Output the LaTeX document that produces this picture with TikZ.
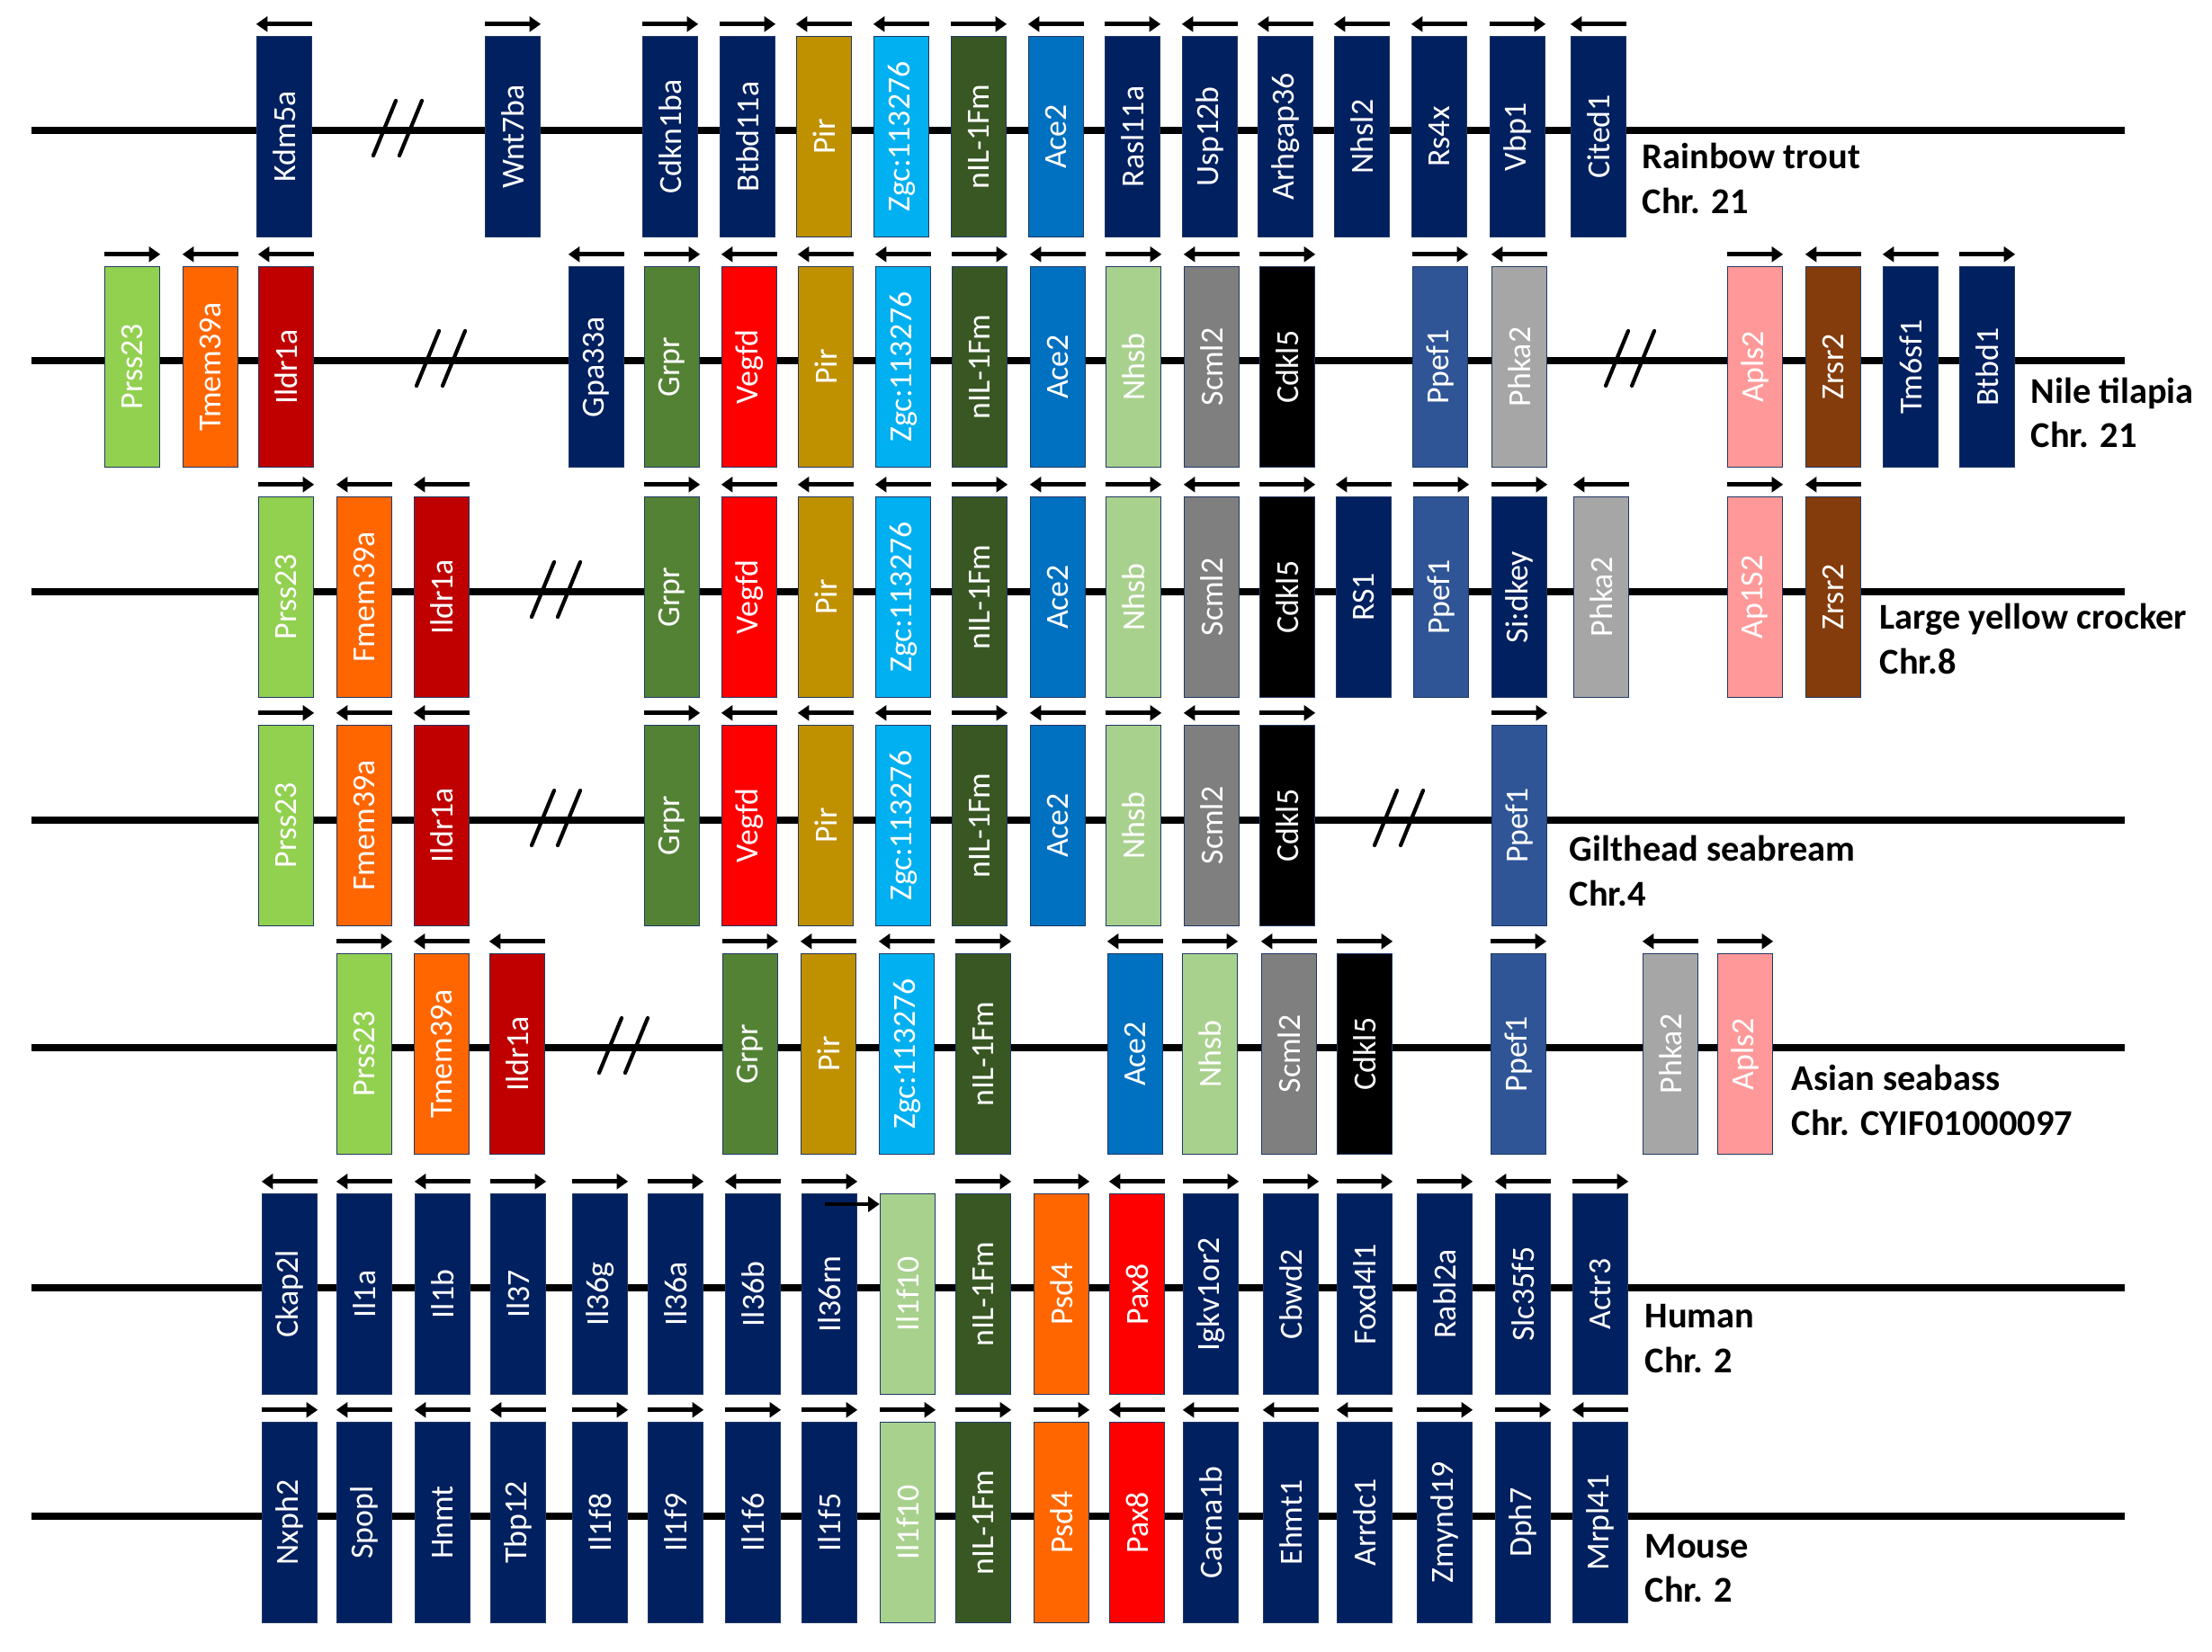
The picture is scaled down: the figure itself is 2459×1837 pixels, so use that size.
\documentclass[tikz,border=0pt]{standalone}
\usepackage{fontspec}
\setmainfont{Carlito}
\usepackage{graphicx}
\usepackage{tikz}
\usetikzlibrary{arrows.meta, positioning}
\definecolor{darknavy}{HTML}{002060}
\definecolor{ochre}{HTML}{BF9000}
\definecolor{skyblue}{HTML}{00B0F0}
\definecolor{forest}{HTML}{385723}
\definecolor{ocean}{HTML}{0070C0}
\definecolor{lime}{HTML}{92D050}
\definecolor{tangerine}{HTML}{FF6600}
\definecolor{crimson}{HTML}{C00000}
\definecolor{grass}{HTML}{548235}
\definecolor{scarlet}{HTML}{FF0000}
\definecolor{mint}{HTML}{A9D18E}
\definecolor{slate}{HTML}{7F7F7F}
\definecolor{royal}{HTML}{2F5597}
\definecolor{silver}{HTML}{A6A6A6}
\definecolor{salmon}{HTML}{FF9999}
\definecolor{rust}{HTML}{843C0C}
\definecolor{edge}{HTML}{203864}

\begin{document}
\begin{tikzpicture}[x=0.1mm, y=-0.1mm,
  gene/.style={draw=edge, line width=0.4pt, minimum width=6.1mm, minimum height=22.3mm, inner sep=0pt, text=white, font=\fontsize{10.2}{12}\selectfont},
  species/.style={anchor=base west, inner sep=0pt, font=\fontsize{11.5}{14}\selectfont\bfseries},
  chrom/.style={line width=2.3pt},
  brk/.style={line width=1.2pt, line cap=round},
  fwd/.style={line width=1.4pt, -{Triangle[length=3.6pt, width=4.8pt]}},
  rev/.style={line width=1.4pt, {Triangle[length=3.6pt, width=4.8pt]}-},
  nodir/.style={draw=none}]
\useasboundingbox (0,0) rectangle (2459,1837);

% chromosomes
\foreach \ly in {145,401,658,912,1165,1432,1686}
  \draw[chrom] (35,\ly) -- (2362,\ly);

% breaks
\foreach \bx/\by in {442/145, 490/401, 1812/401, 618/658, 618/912, 1555/912, 693/1165}
  \draw[brk] (\bx-27,\by+28) -- ++(25,-61) (\bx+2,\by+28) -- ++(25,-61);

% Rainbow trout
\foreach \x/\g/\c/\d [count=\i] in {316/Kdm5a/darknavy/rev, 570/Wnt7ba/darknavy/fwd,
  745/Cdkn1ba/darknavy/fwd, 831/Btbd11a/darknavy/fwd, 916/Pir/ochre/rev,
  1002/Zgc:113276/skyblue/rev, 1088/nIL-1Fm/forest/fwd, 1174/Ace2/ocean/rev,
  1259/Rasl11a/darknavy/fwd, 1345/Usp12b/darknavy/rev, 1429/Arhgap36/darknavy/rev,
  1514/Nhsl2/darknavy/rev, 1600/Rs4x/darknavy/rev, 1687/Vbp1/darknavy/fwd,
  1777/Cited1/darknavy/rev}
{
  \node[gene, fill=\c] (trout\i) at (\x,152) {\rotatebox{90}{\g}};
  \draw[\d] ([yshift=1.3mm]trout\i.north west) -- ([yshift=1.3mm]trout\i.north east);
}
\node[species] (sp1) at (1825,187) {Rainbow trout};
\node[species] (chr1) at (1825,237) {Chr. 21};

% Nile tilapia
\foreach \x/\g/\c/\d [count=\i] in {147/Prss23/lime/fwd, 234/Tmem39a/tangerine/rev,
  318/Ildr1a/crimson/rev, 663/Gpa33a/darknavy/rev, 747/Grpr/grass/fwd,
  833/Vegfd/scarlet/rev, 918/Pir/ochre/rev, 1004/Zgc:113276/skyblue/rev,
  1089/nIL-1Fm/forest/fwd, 1176/Ace2/ocean/rev, 1260/Nhsb/mint/fwd,
  1347/Scml2/slate/rev, 1431/Cdkl5/black/fwd, 1601/Ppef1/royal/fwd,
  1689/Phka2/silver/rev, 1951/Apls2/salmon/fwd, 2038/Zrsr2/rust/rev,
  2124/Tm6sf1/darknavy/rev, 2209/Btbd1/darknavy/fwd}
{
  \node[gene, fill=\c] (tilapia\i) at (\x,408) {\rotatebox{90}{\g}};
  \draw[\d] ([yshift=1.3mm]tilapia\i.north west) -- ([yshift=1.3mm]tilapia\i.north east);
}
\node[species] (sp2) at (2257,448) {Nile tilapia};
\node[species] (chr2) at (2257,497) {Chr. 21};

% Large yellow crocker
\foreach \x/\g/\c/\d [count=\i] in {318/Prss23/lime/fwd, 405/Fmem39a/tangerine/rev,
  491/Ildr1a/crimson/rev, 747/Grpr/grass/fwd, 833/Vegfd/scarlet/rev,
  918/Pir/ochre/rev, 1004/Zgc:113276/skyblue/rev, 1089/nIL-1Fm/forest/fwd,
  1176/Ace2/ocean/rev, 1260/Nhsb/mint/fwd, 1347/Scml2/slate/rev,
  1431/Cdkl5/black/fwd, 1516/RS1/darknavy/rev, 1602/Ppef1/royal/fwd,
  1689/Si:dkey/darknavy/fwd, 1780/Phka2/silver/rev, 1951/Ap1S2/salmon/fwd,
  2038/Zrsr2/rust/rev}
{
  \node[gene, fill=\c] (crocker\i) at (\x,664) {\rotatebox{90}{\g}};
  \draw[\d] ([yshift=1.3mm]crocker\i.north west) -- ([yshift=1.3mm]crocker\i.north east);
}
\node[species] (sp3) at (2089,699) {Large yellow crocker};
\node[species] (chr3) at (2089,749) {Chr.8};

% Gilthead seabream
\foreach \x/\g/\c/\d [count=\i] in {318/Prss23/lime/fwd, 405/Fmem39a/tangerine/rev,
  491/Ildr1a/crimson/rev, 747/Grpr/grass/fwd, 833/Vegfd/scarlet/rev,
  918/Pir/ochre/rev, 1004/Zgc:113276/skyblue/rev, 1089/nIL-1Fm/forest/fwd,
  1176/Ace2/ocean/rev, 1260/Nhsb/mint/fwd, 1347/Scml2/slate/rev,
  1431/Cdkl5/black/fwd, 1689/Ppef1/royal/fwd}
{
  \node[gene, fill=\c] (bream\i) at (\x,918) {\rotatebox{90}{\g}};
  \draw[\d] ([yshift=1.3mm]bream\i.north west) -- ([yshift=1.3mm]bream\i.north east);
}
\node[species] (sp4) at (1744,957) {Gilthead seabream};
\node[species] (chr4) at (1744,1007) {Chr.4};

% Asian seabass
\foreach \x/\g/\c/\d [count=\i] in {405/Prss23/lime/fwd, 491/Tmem39a/tangerine/rev,
  575/Ildr1a/crimson/rev, 834/Grpr/grass/fwd, 921/Pir/ochre/rev,
  1008/Zgc:113276/skyblue/rev, 1093/nIL-1Fm/forest/fwd, 1262/Ace2/ocean/rev,
  1345/Nhsb/mint/fwd, 1433/Scml2/slate/rev, 1517/Cdkl5/black/fwd,
  1688/Ppef1/royal/fwd, 1857/Phka2/silver/rev, 1940/Apls2/salmon/fwd}
{
  \node[gene, fill=\c] (seabass\i) at (\x,1172) {\rotatebox{90}{\g}};
  \draw[\d] ([yshift=1.3mm]seabass\i.north west) -- ([yshift=1.3mm]seabass\i.north east);
}
\node[species] (sp5) at (1991,1212) {Asian seabass};
\node[species] (chr5) at (1991,1262) {Chr. CYIF01000097};

% Human
\foreach \x/\g/\c/\d [count=\i] in {322/Ckap2l/darknavy/rev, 405/Il1a/darknavy/rev,
  492/Il1b/darknavy/rev, 576/Il37/darknavy/fwd, 667/Il36g/darknavy/fwd,
  751/Il36a/darknavy/fwd, 837/Il36b/darknavy/rev, 922/Il36rn/darknavy/fwd,
  1009/Il1f10/mint/nodir, 1093/nIL-1Fm/forest/fwd, 1180/Psd4/tangerine/fwd,
  1264/Pax8/scarlet/rev, 1346/Igkv1or2/darknavy/fwd, 1435/Cbwd2/darknavy/fwd,
  1517/Foxd4l1/darknavy/fwd, 1606/Rabl2a/darknavy/fwd, 1693/Slc35f5/darknavy/rev,
  1779/Actr3/darknavy/fwd}
{
  \node[gene, fill=\c] (human\i) at (\x,1439) {\rotatebox{90}{\g}};
  \draw[\d] ([yshift=1.3mm]human\i.north west) -- ([yshift=1.3mm]human\i.north east);
}
\coordinate (tss) at (917,1339);
\draw[fwd] (tss) -- (tss -| human9.west);
\node[species] (sp6) at (1828,1476) {Human};
\node[species] (chr6) at (1828,1526) {Chr. 2};

% Mouse
\foreach \x/\g/\c/\d [count=\i] in {322/Nxph2/darknavy/fwd, 405/Spopl/darknavy/rev,
  492/Hnmt/darknavy/rev, 576/Tbp12/darknavy/rev, 667/Il1f8/darknavy/fwd,
  751/Il1f9/darknavy/fwd, 837/Il1f6/darknavy/fwd, 922/Il1f5/darknavy/fwd,
  1009/Il1f10/mint/fwd, 1093/nIL-1Fm/forest/fwd, 1180/Psd4/tangerine/fwd,
  1264/Pax8/scarlet/rev, 1346/Cacna1b/darknavy/rev, 1435/Ehmt1/darknavy/rev,
  1517/Arrdc1/darknavy/rev, 1606/Zmynd19/darknavy/fwd, 1693/Dph7/darknavy/fwd,
  1779/Mrpl41/darknavy/rev}
{
  \node[gene, fill=\c] (mouse\i) at (\x,1693) {\rotatebox{90}{\g}};
  \draw[\d] ([yshift=1.3mm]mouse\i.north west) -- ([yshift=1.3mm]mouse\i.north east);
}
\node[species] (sp7) at (1828,1732) {Mouse};
\node[species] (chr7) at (1828,1781) {Chr. 2};
\end{tikzpicture}
\end{document}
